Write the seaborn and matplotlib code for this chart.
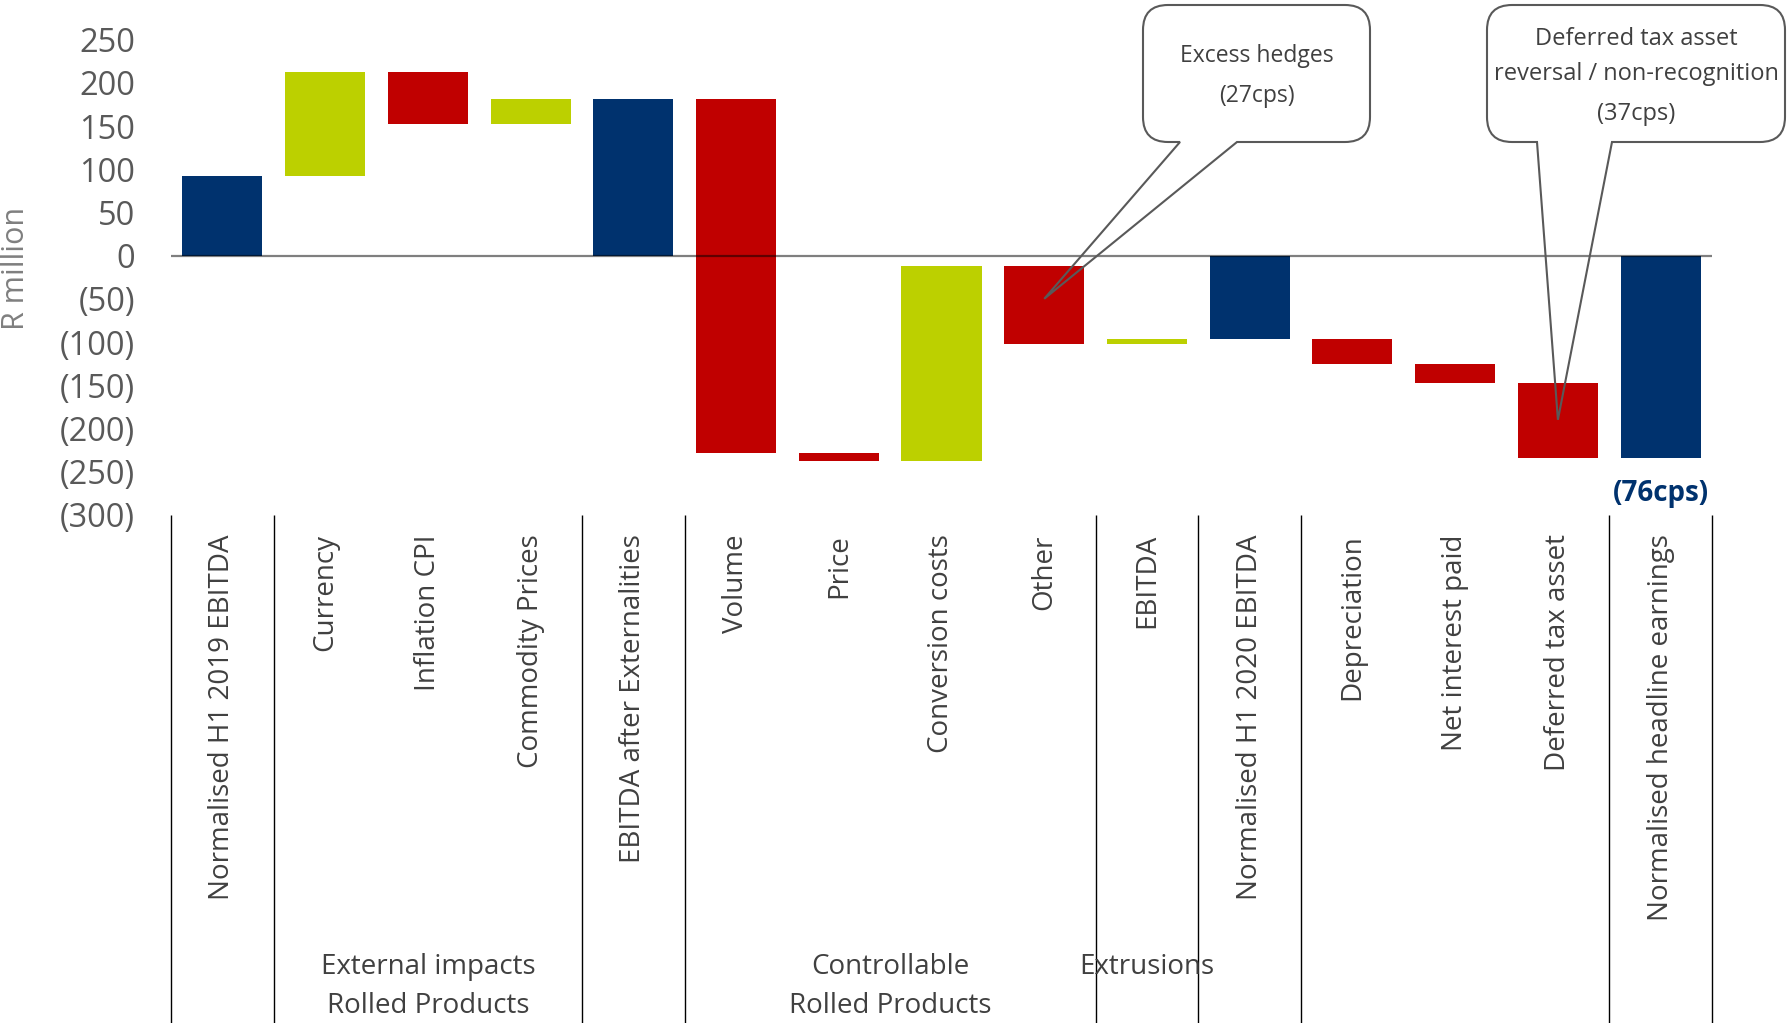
import numpy as np
import pandas as pd
import matplotlib
matplotlib.use("Agg")
import matplotlib.pyplot as plt
import seaborn as sns
from matplotlib.path import Path
from matplotlib.patches import PathPatch
from matplotlib.transforms import Affine2D, blended_transform_factory

# ---- data (R million) ----
categories = [
    "Normalised H1 2019 EBITDA", "Currency", "Inflation CPI", "Commodity Prices",
    "EBITDA after Externalities", "Volume", "Price", "Conversion costs", "Other",
    "EBITDA", "Normalised H1 2020 EBITDA", "Depreciation", "Net interest paid",
    "Deferred tax asset", "Normalised headline earnings",
]
# "total" bars start at zero, "delta" bars float from the running total
kinds = ["total", "delta", "delta", "delta", "total", "delta", "delta", "delta",
         "delta", "delta", "total", "delta", "delta", "delta", "total"]
values = [92, 120, -60, 29, 181, -409, -10, 226, -90, 6, -96, -30, -21, -87, -234]

y_ticks = list(range(-300, 251, 50))
group_labels = ["External impacts\nRolled Products", "Controllable\nRolled Products", "Extrusions"]
group_centers = [2, 6.5, 9]
separators = [-0.5, 0.5, 3.5, 4.5, 8.5, 9.5, 10.5, 13.5, 14.5]

NAVY, RED, LIME = "#00326E", "#C00000", "#BCD000"

# running totals -> bar start/height
starts, heights, colors = [], [], []
running = 0
for kind, v in zip(kinds, values):
    if kind == "total":
        starts.append(0)
        heights.append(v)
        colors.append(NAVY)
        running = v
    else:
        starts.append(running)
        heights.append(v)
        colors.append(LIME if v > 0 else RED)
        running += v

df = pd.DataFrame({"category": categories, "height": heights})

sns.set_theme(style="white")
plt.rcParams["font.family"] = ["Open Sans", "DejaVu Sans"]

W, H = 1787, 1023
fig = plt.figure(figsize=(W / 100, H / 100), dpi=100)
ax = fig.add_axes([171 / W, 1 - 514.8 / H, (1712 - 171) / W, (514.8 - 39.6) / H])

sns.barplot(data=df, x="category", y="height", hue="category", palette=colors,
            legend=False, width=0.78, saturation=1, errorbar=None, ax=ax, zorder=2)

# float each bar from its running-total start
bars = sorted(ax.patches, key=lambda p: p.get_x())
for bar, s in zip(bars, starts):
    bar.set_y(s)
    bar.set_linewidth(0)

ax.set_xlim(-0.5, 14.5)
ax.set_ylim(-300, 250)
for sp in ax.spines.values():
    sp.set_visible(False)

ax.axhline(0, color="black", alpha=0.5, lw=1.6, zorder=3)

ax.set_yticks(y_ticks)
ax.set_yticklabels([f"({abs(t)})" if t < 0 else f"{t}" for t in y_ticks],
                   fontsize=23.5, color="#595959")
ax.tick_params(axis="y", length=0, pad=26)

ax.set_xticks(range(len(categories)))
ax.set_xticklabels(categories, rotation=90, fontsize=20, color="#404040")
ax.tick_params(axis="x", length=0, pad=14)
ax.set_xlabel("")
ax.set_ylabel("")

# separators under the category axis
ax.vlines(separators, -900, -300, colors="black", lw=1, clip_on=False)

# group captions
btrans = blended_transform_factory(ax.transData, fig.transFigure)
for lab, xc in zip(group_labels, group_centers):
    lines = lab.split("\n")
    for k, line in enumerate(lines):
        ax.text(xc, 1 - (967 + 38.8 * k) / H, line, transform=btrans, ha="center",
                va="center", fontsize=20, color="#404040")

# headline earnings per share
ax.text(14, -275, "(76cps)", ha="center", va="center", fontsize=20,
        fontweight="bold", color=NAVY, clip_on=False)

# y-axis title at the left edge
fig.text(16 / W, 1 - 268 / H, "R million", rotation=90, ha="center", va="center",
         fontsize=22, color="#7f7f7f")

# speech-bubble callouts
px = Affine2D().scale(1 / W, 1 / H) + fig.transFigure


def callout(left, right, top, bottom, b1, b2, tip_xy, r=25):
    Tt, Bt = H - top, H - bottom
    tx, ty = ax.transData.transform(tip_xy)
    verts = [
        (b1, Bt), (left + r, Bt), (left, Bt), (left, Bt + r), (left, Tt - r),
        (left, Tt), (left + r, Tt), (right - r, Tt), (right, Tt), (right, Tt - r),
        (right, Bt + r), (right, Bt), (right - r, Bt), (b2, Bt), (tx, ty), (b1, Bt),
    ]
    codes = [
        Path.MOVETO, Path.LINETO, Path.CURVE3, Path.CURVE3, Path.LINETO,
        Path.CURVE3, Path.CURVE3, Path.LINETO, Path.CURVE3, Path.CURVE3,
        Path.LINETO, Path.CURVE3, Path.CURVE3, Path.LINETO, Path.LINETO, Path.CLOSEPOLY,
    ]
    patch = PathPatch(Path(verts, codes), facecolor="none", edgecolor="#595959",
                      lw=1.5, transform=px, zorder=10, clip_on=False)
    fig.add_artist(patch)


callout(1143, 1370, 5, 142, 1180, 1237, (8, -50))
callout(1487, 1785, 5, 142, 1537, 1612, (13, -190))

for txt, yy in [("Excess hedges", 56), ("(27cps)", 96)]:
    fig.text(1256.5 / W, 1 - yy / H, txt, ha="center", va="center", fontsize=16.5, color="#404040")
for txt, yy in [("Deferred tax asset", 39), ("reversal / non-recognition", 74), ("(37cps)", 114)]:
    fig.text(1636 / W, 1 - yy / H, txt, ha="center", va="center", fontsize=17, color="#404040")

fig.savefig("out.png", dpi=100)
